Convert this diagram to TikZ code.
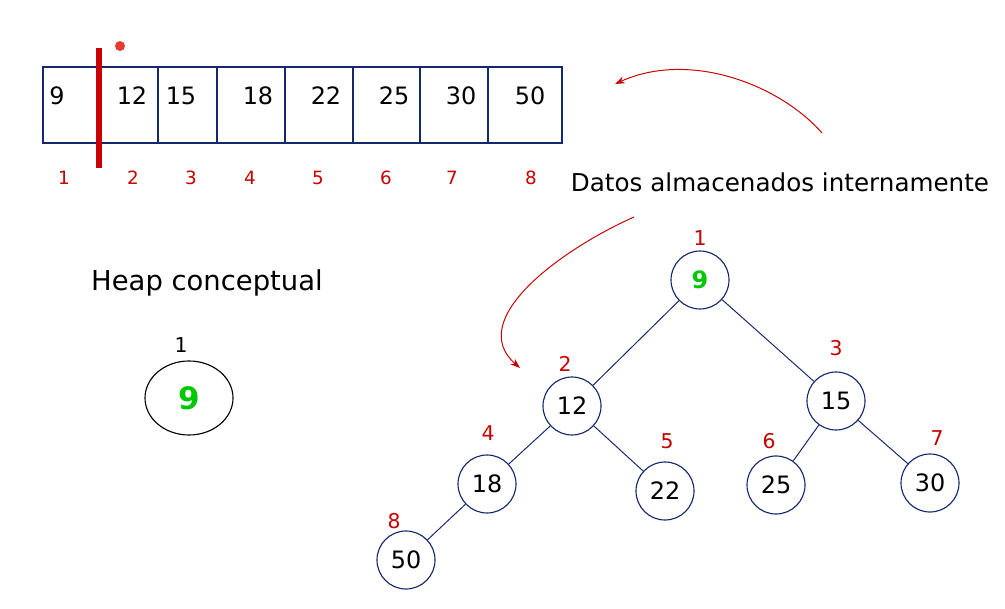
\documentclass[tikz,border=0pt]{standalone}
\usepackage{fontspec}
\setmainfont{DejaVu Sans}
\usepackage{tikz}
\usetikzlibrary{shapes,arrows.meta,positioning}
\definecolor{hpnavy}{RGB}{20,40,110}
\definecolor{hpred}{RGB}{200,0,0}
\definecolor{hpdot}{RGB}{230,60,50}
\definecolor{hpgreen}{RGB}{0,200,0}

\begin{document}
\begin{tikzpicture}[
  x=0.025cm, y=-0.025cm,
  cell/.style={rectangle, draw=hpnavy, line width=0.8pt, inner sep=0pt, minimum height=1.9cm},
  val/.style={font=\fontsize{17}{20}\selectfont, inner sep=0pt},
  idx/.style={text=hpred, font=\fontsize{13}{15}\selectfont, inner sep=0pt},
  tidx/.style={text=hpred, font=\fontsize{14.5}{17}\selectfont, inner sep=0pt},
  knot/.style={circle, draw=hpnavy, line width=0.8pt, minimum size=1.45cm, inner sep=0pt, font=\fontsize{17}{20}\selectfont},
  edge/.style={draw=hpnavy, line width=0.7pt},
  link/.style={-{Stealth[length=7pt,width=5pt]}, hpred, line width=0.7pt}
]
\useasboundingbox (0,0) rectangle (1005,609);

% Array cells
\node[cell, minimum width=2.875cm] (c1) at (100.5,105) {};
\node[cell, minimum width=1.475cm] (c2) at (187.5,105) {};
\node[cell, minimum width=1.7cm] (c3) at (251,105) {};
\node[cell, minimum width=1.7cm] (c4) at (319,105) {};
\node[cell, minimum width=1.675cm] (c5) at (386.5,105) {};
\node[cell, minimum width=1.7cm] (c6) at (454,105) {};
\node[cell, minimum width=1.85cm] (c7) at (525,105) {};

% Array values
\node[val] (v1) at (57,96) {9};
\node[val] (v2) at (132,96) {12};
\node[val] (v3) at (181,96) {15};
\node[val] (v4) at (258,96) {18};
\node[val] (v5) at (326,96) {22};
\node[val] (v6) at (394,96) {25};
\node[val] (v7) at (461,96) {30};
\node[val] (v8) at (530,96) {50};

% Divider and marker
\coordinate (bartop) at (99,48);
\coordinate (barbot) at (99,168);
\draw[hpred, line width=4.3pt] (bartop) -- (barbot);
\fill[hpdot] (120,46) circle (5);

% Array indices
\node[idx] (i1) at (64,178) {1};
\node[idx] (i2) at (133,178) {2};
\node[idx] (i3) at (191,178) {3};
\node[idx] (i4) at (250,178) {4};
\node[idx] (i5) at (318,178) {5};
\node[idx] (i6) at (386,178) {6};
\node[idx] (i7) at (452,178) {7};
\node[idx] (i8) at (531,178) {8};

% Caption and arrows
\node[font=\fontsize{17.5}{21}\selectfont, inner sep=0pt] (datos) at (780,182) {Datos almacenados internamente};
\coordinate (a1s) at (822,133);
\coordinate (a1e) at (615,84);
\draw[link] (a1s) .. controls (780,85) and (690,50) .. (a1e);
\coordinate (a2s) at (634,217);
\coordinate (a2e) at (520,368);
\draw[link] (a2s) .. controls (560,250) and (465,320) .. (a2e);

% Conceptual heap
\node[font=\fontsize{19.5}{23}\selectfont, inner sep=0pt] (title) at (207,283) {Heap conceptual};
\node[font=\fontsize{14.5}{17}\selectfont, inner sep=0pt] (croot) at (181,345) {1};
\node[ellipse, draw, line width=0.8pt, minimum width=2.2cm, minimum height=1.85cm, inner sep=0pt,
      text=hpgreen, font=\fontsize{22}{26}\selectfont\bfseries] (eroot) at (189,398) {9};

% Tree
\node[knot, text=hpgreen, font=\fontsize{17}{20}\selectfont\bfseries] (n1) at (700,280) {9};
\node[knot] (n2) at (572,406) {12};
\node[knot] (n3) at (836,401) {15};
\node[knot] (n4) at (487,484) {18};
\node[knot] (n5) at (665,491) {22};
\node[knot] (n6) at (776,485) {25};
\node[knot] (n7) at (930,483) {30};
\node[knot] (n8) at (406,560) {50};

\node[tidx] (t1) at (700,238) {1};
\node[tidx] (t2) at (565,364) {2};
\node[tidx] (t3) at (836,348) {3};
\node[tidx] (t4) at (488,433) {4};
\node[tidx] (t5) at (667,441) {5};
\node[tidx] (t6) at (769,441) {6};
\node[tidx] (t7) at (937,438) {7};
\node[tidx] (t8) at (394,521) {8};

\draw[edge] (n1) -- (n2);
\draw[edge] (n1) -- (n3);
\draw[edge] (n2) -- (n4);
\draw[edge] (n2) -- (n5);
\draw[edge] (n3) -- (n6);
\draw[edge] (n3) -- (n7);
\draw[edge] (n4) -- (n8);

\end{tikzpicture}
\end{document}
